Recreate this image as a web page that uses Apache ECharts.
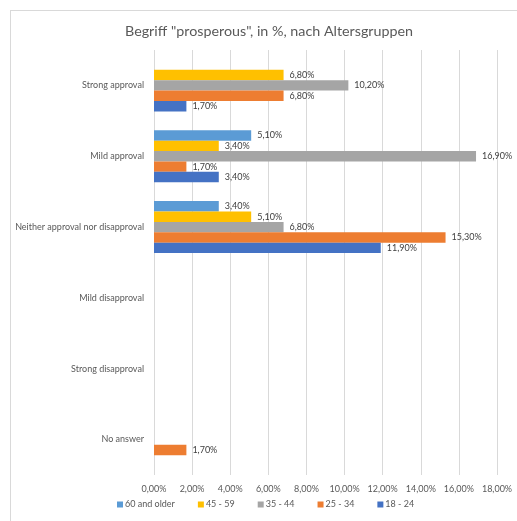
<!DOCTYPE html>
<html>
<head>
<meta charset="utf-8">
<script src="https://cdn.jsdelivr.net/npm/echarts@6/dist/echarts.min.js"></script>
<style>
  html, body { margin: 0; padding: 0; background: #ffffff; }
  #frame { position: absolute; left: 10px; top: 10px; width: 520px; height: 520px; border: 1px solid #d9d9d9; box-sizing: border-box; }
  #chart { position: absolute; left: 0; top: 0; width: 517px; height: 521px; }
</style>
</head>
<body>
<div id="frame"></div>
<div id="chart"></div>
<script>
// Answer categories, top to bottom
const categories = [
  'Strong approval',
  'Mild approval',
  'Neither approval nor disapproval',
  'Mild disapproval',
  'Strong disapproval',
  'No answer'
];

// Share per age group, in %
const ageGroups = ['60 and older', '45 - 59', '35 - 44', '25 - 34', '18 - 24'];
const age60plus = [null, 5.1, 3.4, null, null, null];
const age45to59 = [6.8, 3.4, 5.1, null, null, null];
const age35to44 = [10.2, 16.9, 6.8, null, null, null];
const age25to34 = [6.8, 1.7, 15.3, null, null, 1.7];
const age18to24 = [1.7, 3.4, 11.9, null, null, null];

const xTicks = [0, 2, 4, 6, 8, 10, 12, 14, 16, 18];

const seriesValues = [age60plus, age45to59, age35to44, age25to34, age18to24];
const colors = ['#5B9BD5', '#FFC000', '#A5A5A5', '#ED7D31', '#4472C4'];

const pct = v => v.toFixed(2).replace('.', ',') + '%';
const fontFamily = 'Lato, "Open Sans", sans-serif';

const chart = echarts.init(document.getElementById('chart'), null, { renderer: 'canvas' });

chart.setOption({
  animation: false,
  color: colors,
  title: {
    text: 'Begriff "prosperous", in %, nach Altersgruppen',
    left: 120,
    top: 19,
    textStyle: { fontFamily, fontSize: 14.3, fontWeight: 'normal', color: '#595959' }
  },
  legend: {
    bottom: 7,
    left: 112,
    itemWidth: 6,
    itemHeight: 6,
    itemGap: 23,
    icon: 'rect',
    textStyle: { fontFamily, fontSize: 9, color: '#595959', padding: [0, 0, 0, -3] },
    data: ageGroups
  },
  grid: { left: 154, right: 20, top: 50, bottom: 46, containLabel: false },
  xAxis: {
    type: 'value',
    min: xTicks[0],
    max: xTicks[xTicks.length - 1],
    interval: 2,
    axisLine: { show: false },
    axisTick: { show: false },
    axisLabel: { formatter: pct, fontFamily, fontSize: 9, color: '#595959', margin: 10 },
    splitLine: { lineStyle: { color: '#d9d9d9', width: 1 } }
  },
  yAxis: {
    type: 'category',
    inverse: true,
    data: categories,
    axisLine: { show: false },
    axisTick: { show: false },
    axisLabel: { fontFamily, fontSize: 9, color: '#595959', margin: 10 }
  },
  series: ageGroups.map((name, i) => ({
    name,
    type: 'bar',
    data: seriesValues[i],
    barWidth: 10.4,
    barGap: '0%',
    label: {
      show: true,
      position: 'right',
      distance: 6,
      formatter: p => p.value == null ? '' : pct(p.value),
      fontFamily,
      fontSize: 9,
      color: '#404040'
    }
  }))
});
</script>
</body>
</html>
